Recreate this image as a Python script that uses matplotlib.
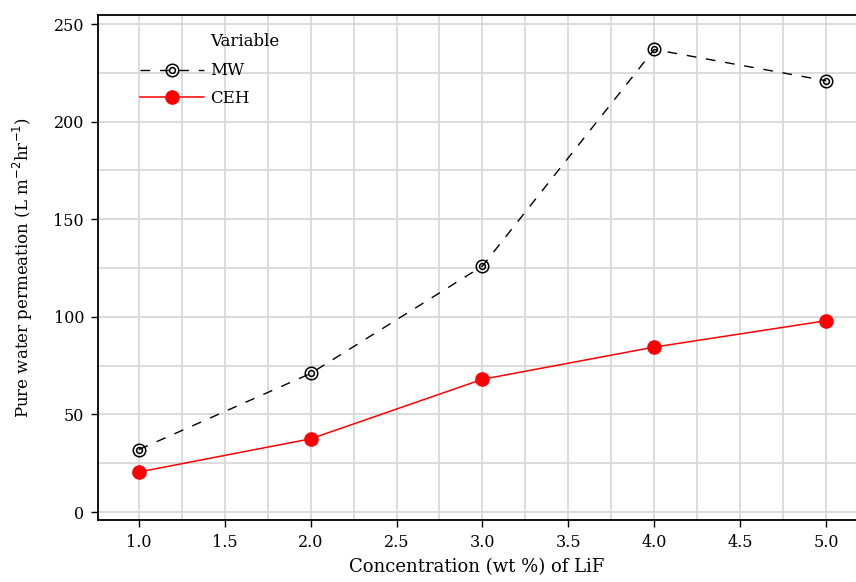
import numpy as np
import matplotlib.pyplot as plt
from matplotlib.ticker import MultipleLocator

plt.rcParams['font.family'] = ['DejaVu Serif']

conc = [1.0, 2.0, 3.0, 4.0, 5.0]
mw = [32, 71, 126, 237, 221]
ceh = [20.5, 37.5, 68, 84.5, 98]

fig = plt.figure(figsize=(8.56, 5.82), dpi=100)
ax = fig.add_axes([0.1145, 0.1065, 0.8855, 0.8675])

# grid: every 0.25 on x, every 25 on y
ax.xaxis.set_major_locator(MultipleLocator(0.5))
ax.xaxis.set_minor_locator(MultipleLocator(0.25))
ax.yaxis.set_major_locator(MultipleLocator(50))
ax.yaxis.set_minor_locator(MultipleLocator(25))
ax.grid(which='both', color='#d9d9d9', linewidth=1.3)
ax.set_axisbelow(True)
ax.tick_params(which='minor', length=0)
ax.tick_params(which='major', direction='out', length=5, width=1, labelsize=11.5,
               colors='black', pad=5)

l1, = ax.plot(conc, mw, color='black', linestyle=(0, (7, 7)), linewidth=1,
              marker='o', markersize=9, markerfacecolor='none', markeredgecolor='black',
              markeredgewidth=1.1, zorder=3)
l1b, = ax.plot(conc, mw, linestyle='none', marker='o', markersize=4.2,
               markerfacecolor='none', markeredgecolor='black', markeredgewidth=1.1, zorder=4)
l2, = ax.plot(conc, ceh, color='red', linewidth=1.1, marker='o', markersize=9.5,
              markerfacecolor='red', markeredgecolor='red', zorder=3)

ax.set_xlim(0.762, 5.175)
ax.set_ylim(-4.1, 254.6)
ax.set_xticks([1.0, 1.5, 2.0, 2.5, 3.0, 3.5, 4.0, 4.5, 5.0])
ax.set_xticklabels(['1.0', '1.5', '2.0', '2.5', '3.0', '3.5', '4.0', '4.5', '5.0'])

for s in ['left', 'bottom', 'top']:
    ax.spines[s].set_linewidth(1.3)
ax.spines['right'].set_visible(False)

ax.set_xlabel('Concentration (wt %) of LiF', fontsize=13, labelpad=5)
ax.set_ylabel('Pure water permeation (L m$^{-2}$hr$^{-1}$)', fontsize=12, labelpad=13)

leg = ax.legend([(l1, l1b), l2], ['MW', 'CEH'], loc='upper left',
                bbox_to_anchor=(0.036, 0.936), frameon=False, fontsize=12,
                handlelength=3.85, handletextpad=0.35, labelspacing=0.65)
ax.text(0.148, 0.947, 'Variable', transform=ax.transAxes, fontsize=12, va='center')

fig.savefig('out.png', dpi=100)
